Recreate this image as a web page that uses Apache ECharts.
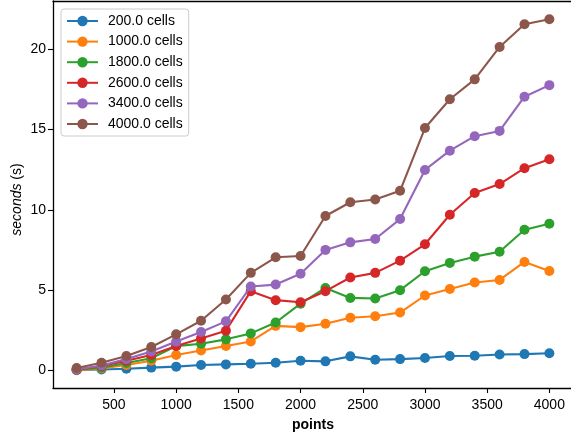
<!DOCTYPE html>
<html>
<head>
<meta charset="utf-8">
<script src="https://cdn.jsdelivr.net/npm/echarts@6/dist/echarts.min.js"></script>
<style>html,body{margin:0;padding:0;background:#fff;}#c{width:571px;height:434px;}</style>
</head>
<body>
<div id="c"></div>
<script>
const points = [200,400,600,800,1000,1200,1400,1600,1800,2000,2200,2400,2600,2800,3000,3200,3400,3600,3800,4000];
const seriesNames = ['200.0 cells','1000.0 cells','1800.0 cells','2600.0 cells','3400.0 cells','4000.0 cells'];
const cells200  = [0.02,0.05,0.10,0.17,0.23,0.33,0.37,0.41,0.47,0.60,0.56,0.87,0.66,0.70,0.77,0.89,0.91,0.99,1.01,1.06];
const cells1000 = [0.00,0.12,0.33,0.60,0.95,1.24,1.51,1.80,2.77,2.69,2.90,3.27,3.37,3.60,4.66,5.07,5.47,5.63,6.75,6.19];
const cells1800 = [0.02,0.16,0.46,0.75,1.51,1.66,1.93,2.30,2.98,4.15,5.13,4.51,4.47,4.99,6.17,6.69,7.08,7.39,8.76,9.13];
const cells2600 = [0.05,0.25,0.60,0.95,1.51,1.99,2.47,4.93,4.37,4.24,4.93,5.78,6.07,6.83,7.85,9.69,11.04,11.60,12.59,13.15];
const cells3400 = [0.05,0.30,0.70,1.17,1.79,2.39,3.05,5.22,5.34,6.02,7.50,7.97,8.18,9.42,12.48,13.68,14.58,14.91,17.04,17.76];
const cells4000 = [0.15,0.47,0.89,1.45,2.24,3.09,4.41,6.07,7.04,7.12,9.61,10.47,10.64,11.18,15.09,16.88,18.12,20.14,21.55,21.86];
const xTicks = [500,1000,1500,2000,2500,3000,3500,4000];
const yTicks = [0,5,10,15,20];
const colors = ['#1f77b4','#ff7f0e','#2ca02c','#d62728','#9467bd','#8c564b'];

const allData = [cells200,cells1000,cells1800,cells2600,cells3400,cells4000];
const font = 'Liberation Sans';
const chart = echarts.init(document.getElementById('c'), null, {renderer:'canvas'});
chart.setOption({
  animation:false,
  color: colors,
  textStyle:{fontFamily:font},
  grid:{left:53,right:-2,top:1,bottom:46,show:false,containLabel:false,outerBoundsMode:'none'},
  legend:{
    orient:'vertical', left:61, top:9,
    data: seriesNames,
    itemWidth:31, itemHeight:13, itemGap:6.6,
    padding:[5,6,5,5],
    backgroundColor:'#fff', borderColor:'#ccc', borderWidth:1, borderRadius:3,
    textStyle:{fontFamily:font,fontSize:14,color:'#000',padding:[0,0,0,5]}
  },
  xAxis:[{
    type:'value', min:10, max:4190,
    name:'points', nameLocation:'middle', nameGap:30,
    nameTextStyle:{fontFamily:font,fontSize:14,fontWeight:'bold',color:'#000'},
    axisLine:{show:true,onZero:false,lineStyle:{color:'#000',width:1.3}},
    axisTick:{show:true,length:5,customValues:xTicks,lineStyle:{color:'#000',width:1.1}},
    axisLabel:{customValues:xTicks,fontFamily:font,fontSize:14,color:'#000',margin:10,formatter:v=>String(v)},
    splitLine:{show:false}
  },{
    type:'value', min:10, max:4190, position:'top',
    axisLine:{show:true,onZero:false,lineStyle:{color:'#000',width:1.3}},
    axisTick:{show:false}, axisLabel:{show:false}, splitLine:{show:false}
  }],
  yAxis:{
    type:'value', min:-1.1, max:23,
    name:'{i|seconds} {n|(s)}', nameLocation:'middle', nameGap:29, nameRotate:90, nameMoveOverlap:false,
    nameTextStyle:{fontFamily:font,fontSize:14,color:'#000',padding:[0,10,0,0],rich:{i:{fontStyle:'italic',fontFamily:font,fontSize:14},n:{fontFamily:font,fontSize:14}}},
    axisLine:{show:true,onZero:false,lineStyle:{color:'#000',width:1.3}},
    axisTick:{show:true,length:5,customValues:yTicks,lineStyle:{color:'#000',width:1.1}},
    axisLabel:{customValues:yTicks,fontFamily:font,fontSize:14,color:'#000',margin:7},
    splitLine:{show:false}
  },
  series: allData.map((d,i)=>({
    name: seriesNames[i], type:'line',
    data: points.map((p,j)=>[p,d[j]]),
    symbol:'circle', symbolSize:10,
    lineStyle:{width:2.1,color:colors[i]},
    itemStyle:{color:colors[i]},
    z: 2+i
  }))
});
</script>
</body>
</html>
